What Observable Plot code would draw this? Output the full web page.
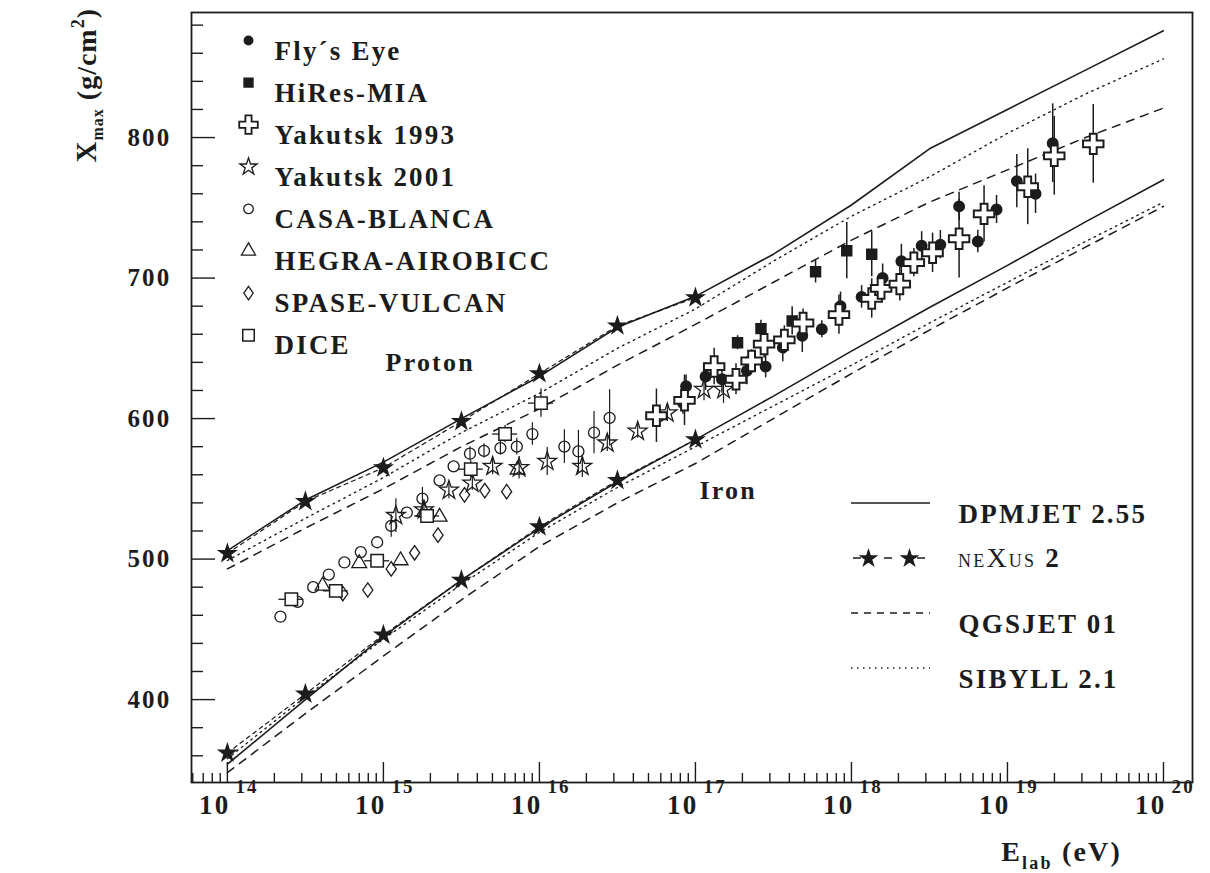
<!DOCTYPE html>
<html><head><meta charset="utf-8">
<script src="https://cdn.jsdelivr.net/npm/d3@7"></script>
<script src="https://cdn.jsdelivr.net/npm/@observablehq/plot@0.6"></script>
<style>
body{margin:0;background:#fff;}
#chart svg{font-family:"Liberation Serif","Times New Roman",serif;display:block;}
#chart svg text{letter-spacing:2.2px;}
</style></head><body><div id="chart"></div>
<script>
// ---- model curves (log10 E/eV grid, Xmax in g/cm^2) ----
const energyGrid = [14, 14.5, 15, 15.5, 16, 16.5, 17, 17.5, 18, 18.5, 19, 19.5, 20];
const dpmjetProton = [506, 542, 569, 600, 630, 665, 687, 717, 752, 792, 820, 848, 876];
const sibyllProton = [499, 529, 558, 590, 618, 650, 678, 712, 744, 772, 803, 831, 856];
const qgsjetProton = [493, 522, 550, 580, 607, 638, 667, 697, 727, 754, 777, 800, 821];
const dpmjetIron   = [354, 400, 445, 485, 522, 555, 585, 616, 648, 679, 709, 740, 770];
const sibyllIron   = [358, 402, 443, 482, 519, 551, 580, 609, 638, 668, 697, 726, 754];
const qgsjetIron   = [348, 390, 431, 471, 509, 540, 568, 600, 632, 663, 693, 722, 751];
const nexusGrid    = [14, 14.5, 15, 15.5, 16, 16.5, 17];
const nexusProton  = [504, 541, 565, 598, 632, 666, 686];
const nexusIron    = [362, 404, 446, 485, 523, 556, 585];

// ---- measurements ----
const flysEyeLogE = [16.92,16.94,17.065,17.17,17.33,17.45,17.56,17.685,17.81,17.93,18.065,18.20,18.32,18.45,18.57,18.69,18.81,18.93,19.06,19.18,19.29];
const flysEyeX    = [611,623,630,628,634,637,650.5,659,663.6,680,686.6,700,712,723,723.8,751,726,748.8,769,760,796];
const flysEyeErr  = [8,8,10,10,10,8,10,12,6,10,8,10,12,10,10,10,8,10,19,14,28];

const hiresLogE = [17.27,17.42,17.62,17.77,17.97,18.13];
const hiresX    = [654,664,669.5,704.5,719.5,717];
const hiresErr  = [5,6,10,8,20,16];

const yak93LogE = [16.75,16.93,17.12,17.26,17.36,17.44,17.57,17.69,17.92,18.13,18.19,18.31,18.40,18.52,18.69,18.85,19.13,19.30,19.55];
const yak93X    = [602,613,637,628,641,653,656,668,674,685.5,692.6,695.7,711,718,728,745.7,765,787,795.5];
const yak93Err  = [19,18,13,11,8,10,10,10,14,14,10,12,10,14,28,20,27,28,28];

const yak01LogE = [15.08,15.26,15.42,15.57,15.70,15.87,16.05,16.275,16.435,16.63,16.82,17.055,17.18];
const yak01X    = [531,535,549,554,566,565,569.5,566,582.6,591,604,620.7,620.7];
const yak01Err  = [12,5,6,5,6,8,10,8,6,5,6,8,10];

const casaLogE = [14.34,14.45,14.55,14.65,14.75,14.855,14.96,15.05,15.15,15.25,15.36,15.45,15.555,15.645,15.75,15.855,15.955,16.16,16.25,16.35,16.45];
const casaX    = [459,469.5,480,489,497.6,505,512,523.6,533,543,556,566,575,577,579,580,589,580,576.6,590,600.5];
const casaErr  = [0,0,0,0,0,0,0,8,0,8,0,0,5,5,5,6,8,12,15,15,20];

const hegraLogE = [14.61,14.845,15.11,15.26,15.36,15.86];
const hegraX    = [481,497,499,533.5,530,563.6];

const spaseLogE = [14.74,14.90,15.05,15.20,15.35,15.52,15.65,15.79];
const spaseX    = [475.5,478,493,504.5,517,545.7,548.8,548];

const diceLogE = [14.41,14.695,14.96,15.28,15.56,15.78,16.01];
const diceX    = [471.4,477.4,498.8,530.7,564,589,611];
const diceErr  = [0,0,0,0,6,6,10];
const diceEErr = [0.08,0.08,0.08,0.08,0.08,0.08,0.08];

// ---- axes / labels ----
const xDecades = [14,15,16,17,18,19,20];
const yMajor = [400,500,600,700,800];
const legendNames = ["Fly\u00B4s Eye","HiRes-MIA","Yakutsk 1993","Yakutsk 2001","CASA-BLANCA","HEGRA-AIROBICC","SPASE-VULCAN","DICE"];
const modelNames = ["DPMJET 2.55","NEXUS 2","QGSJET 01","SIBYLL 2.1"];
const annotations = [{logE: 15.3, v: 640, label: "Proton"}, {logE: 17.21, v: 549, label: "Iron"}];

// ---- layout ----
const W = 1210, H = 873;
const mL = 191, mT = 12, mR = 18, mB = 91;
const xLogDomain = [13.77, 20.186];
const yDomain = [341, 889];
const ink = "#1c1c1c";

const pts = (e, v, err) => e.map((d, i) => ({e: d, v: v[i], err: err ? err[i] : 0}));
const flys = pts(flysEyeLogE, flysEyeX, flysEyeErr);
const hires = pts(hiresLogE, hiresX, hiresErr);
const yak93 = pts(yak93LogE, yak93X, yak93Err);
const yak01 = pts(yak01LogE, yak01X, yak01Err);
const casa = pts(casaLogE, casaX, casaErr);
const hegra = pts(hegraLogE, hegraX);
const spase = pts(spaseLogE, spaseX);
const dice = pts(diceLogE, diceX, diceErr).map((d, i) => ({...d, xerr: diceEErr[i]}));

const tallDiamond = {draw(ctx, size) {const s = Math.sqrt(size), w = s * 0.42, h = s * 0.6;
  ctx.moveTo(0, -h); ctx.lineTo(w, 0); ctx.lineTo(0, h); ctx.lineTo(-w, 0); ctx.closePath();}};

const styles = {
  flys:  {symbol: "circle", r: 5.2, fill: ink, stroke: ink},
  hires: {symbol: "square", r: 5.6, fill: ink, stroke: ink},
  yak93: {symbol: "cross", r: 8.6, fill: "white", stroke: ink, strokeWidth: 2},
  yak01: {symbol: "star", r: 5.9, fill: "none", stroke: ink, strokeWidth: 1.3},
  casa:  {symbol: "circle", r: 5.5, fill: "none", stroke: ink, strokeWidth: 1.3},
  hegra: {symbol: "triangle", r: 5.5, fill: "none", stroke: ink, strokeWidth: 1.3},
  spase: {symbol: tallDiamond, r: 6.8, fill: "none", stroke: ink, strokeWidth: 1.3},
  dice:  {symbol: "square", r: 7, fill: "white", stroke: ink, strokeWidth: 1.5}
};
const legendStyles = [
  {symbol: "circle", r: 4.2, fill: ink, stroke: ink},
  {symbol: "square", r: 5, fill: ink, stroke: ink},
  {symbol: "cross", r: 7.8, fill: "white", stroke: ink, strokeWidth: 1.8},
  {symbol: "star", r: 5.4, fill: "none", stroke: ink, strokeWidth: 1.3},
  {symbol: "circle", r: 4.8, fill: "none", stroke: ink, strokeWidth: 1.3},
  {symbol: "triangle", r: 5.2, fill: "none", stroke: ink, strokeWidth: 1.3},
  {symbol: tallDiamond, r: 6.3, fill: "none", stroke: ink, strokeWidth: 1.3},
  {symbol: "square", r: 6.5, fill: "none", stroke: ink, strokeWidth: 1.5}
];

// tick geometry helpers (pixel lengths converted through the scale spans)
const plotW = W - mL - mR, plotH = H - mT - mB;
const dataPerPxY = (yDomain[1] - yDomain[0]) / plotH;
const decPerPxX = (xLogDomain[1] - xLogDomain[0]) / plotW;
const xTicks = [];
for (let n = 13; n <= 20; n++) for (let k = 1; k <= 9; k++) {
  const l = n + Math.log10(k);
  if (l > xLogDomain[0] + 0.004 && l < xLogDomain[1]) xTicks.push({v: 10 ** l, len: k === 1 ? 20 : 9});
}
const yTicks = [];
for (let v = 360; v <= 880; v += 20) yTicks.push({v, len: v % 100 === 0 ? 24 : 12});

const curve = (grid, vals, opts) => Plot.line(grid.map((e, i) => ({e, v: vals[i]})),
  {x: d => 10 ** d.e, y: "v", stroke: ink, ...opts});
const errY = (data, w = 1.5) => Plot.ruleX(data.filter(d => d.err > 0),
  {x: d => 10 ** d.e, y1: d => d.v - d.err, y2: d => d.v + d.err, stroke: ink, strokeWidth: w});
const dots = (data, st) => Plot.dot(data, {x: d => 10 ** d.e, y: "v", ...st});

const solid = {strokeWidth: 1.6};
const dotted = {strokeWidth: 1.4, strokeDasharray: "1.5,4.5"};
const dashed = {strokeWidth: 1.5, strokeDasharray: "8,7"};
const nexusDash = {strokeWidth: 1.2, strokeDasharray: "4,4"};

const legendRowsY = [28, 70.1, 112.2, 154.3, 196.4, 238.5, 280.6, 322.7];
const modelRowsY = [491, 546, 601, 656];
const legendFont = 27;

const marks = [
  curve(energyGrid, dpmjetProton, solid),
  curve(energyGrid, sibyllProton, dotted),
  curve(energyGrid, qgsjetProton, dashed),
  curve(nexusGrid, nexusProton, nexusDash),
  curve(energyGrid, dpmjetIron, solid),
  curve(energyGrid, sibyllIron, dotted),
  curve(energyGrid, qgsjetIron, dashed),
  curve(nexusGrid, nexusIron, nexusDash),
  Plot.dot(nexusGrid.map((e, i) => ({e, v: nexusProton[i]})), {x: d => 10 ** d.e, y: "v", symbol: "star", r: 5.2, fill: ink, stroke: ink}),
  Plot.dot(nexusGrid.map((e, i) => ({e, v: nexusIron[i]})), {x: d => 10 ** d.e, y: "v", symbol: "star", r: 5.2, fill: ink, stroke: ink}),
  errY(flys), errY(hires), errY(yak93), errY(yak01, 1.2), errY(casa, 1.2), errY(dice, 1.3),
  Plot.ruleY(dice, {y: "v", x1: d => 10 ** (d.e - d.xerr), x2: d => 10 ** (d.e + d.xerr), stroke: ink, strokeWidth: 1.3}),
  dots(casa, styles.casa), dots(hegra, styles.hegra), dots(spase, styles.spase),
  dots(yak01, styles.yak01), dots(dice, styles.dice),
  dots(flys, styles.flys), dots(hires, styles.hires), dots(yak93, styles.yak93),
  // ticks inside the frame
  Plot.ruleX(xTicks, {x: "v", y1: yDomain[0], y2: d => yDomain[0] + d.len * dataPerPxY, stroke: ink, strokeWidth: 1.4}),
  Plot.ruleY(yTicks, {y: "v", x1: 10 ** xLogDomain[0], x2: d => 10 ** (xLogDomain[0] + d.len * decPerPxX), stroke: ink, strokeWidth: 1.4}),
  Plot.frame({stroke: ink, strokeWidth: 1.8}),
  // tick labels
  Plot.text(yMajor, {y: d => d, frameAnchor: "left", dx: -20, textAnchor: "end", text: d => String(d), fontSize: 25, fontWeight: "bold", fill: ink}),
  Plot.text(xDecades, {x: d => 10 ** d, frameAnchor: "bottom", dy: 31, dx: 3, textAnchor: "end", text: () => "10", fontSize: 27, fontWeight: "bold", fill: ink}),
  Plot.text(xDecades, {x: d => 10 ** d, frameAnchor: "bottom", dy: 10, dx: 8, textAnchor: "start", text: d => String(d), fontSize: 19, fontWeight: "bold", fill: ink}),
  // annotations
  Plot.text(annotations, {x: d => 10 ** d.logE, y: "v", text: "label", fontSize: 26, fontWeight: "bold", fill: ink}),
  // symbol legend
  ...legendNames.flatMap((name, i) => [
    Plot.dot([name], {frameAnchor: "top-left", dx: 57, dy: legendRowsY[i], ...legendStyles[i]}),
    Plot.text([name], {frameAnchor: "top-left", dx: 83, dy: legendRowsY[i], textAnchor: "start", fontSize: legendFont, fontWeight: "bold", fill: ink})
  ]),
  // model legend labels (neXus drawn with small caps below)
  ...modelNames.flatMap((name, i) => i === 1 ? [] : [
    Plot.text([name], {frameAnchor: "top-left", dx: 767, dy: modelRowsY[i], textAnchor: "start", fontSize: legendFont, fontWeight: "bold", fill: ink})
  ]),
  Plot.dot([0], {frameAnchor: "top-left", dx: 677, dy: modelRowsY[1], symbol: "star", r: 4.8, fill: ink, stroke: ink}),
  Plot.dot([0], {frameAnchor: "top-left", dx: 718, dy: modelRowsY[1], symbol: "star", r: 4.8, fill: ink, stroke: ink})
];

const svg = Plot.plot({
  width: W, height: H,
  marginLeft: mL, marginTop: mT, marginRight: mR, marginBottom: mB,
  style: {background: "white", fontFamily: "'Liberation Serif','Times New Roman',serif"},
  x: {type: "log", domain: [10 ** xLogDomain[0], 10 ** xLogDomain[1]], axis: null},
  y: {domain: yDomain, axis: null},
  marks
});
document.getElementById("chart").append(svg);

// ---- texts with sub/superscripts and legend line samples ----
const s = d3.select(svg);
const sampleX1 = mL + 660, sampleX2 = mL + 739;
const samples = [{dash: null, w: 1.6}, null, {dash: "7,6", w: 1.5}, {dash: "1.5,4.5", w: 1.4}];
samples.forEach((smp, i) => {
  const y = mT + modelRowsY[i];
  if (i === 1) {
    [[853, 861], [884, 892], [917, 925]].forEach(([a, b]) => s.append("line").attr("x1", a).attr("x2", b).attr("y1", y).attr("y2", y).attr("stroke", ink).attr("stroke-width", 1.5));
  } else {
    s.append("line").attr("x1", sampleX1).attr("x2", sampleX2).attr("y1", y).attr("y2", y)
      .attr("stroke", ink).attr("stroke-width", smp.w).attr("stroke-dasharray", smp.dash);
  }
});
const nx = s.append("text").attr("x", mL + 767).attr("y", mT + modelRowsY[1] + 9)
  .attr("text-anchor", "start").attr("fill", ink).attr("font-size", legendFont);
nx.append("tspan").attr("font-size", 18).text("NE");
nx.append("tspan").attr("font-size", 28).text("X");
nx.append("tspan").attr("font-size", 18).text("US");
nx.append("tspan").attr("font-weight", "bold").text(" 2");

const yt = s.append("text").attr("transform", "translate(96,8) rotate(-90)").attr("text-anchor", "end")
  .attr("fill", ink).attr("font-weight", "bold").style("letter-spacing", "1px");
yt.append("tspan").attr("font-size", 29).text("X");
yt.append("tspan").attr("font-size", 16).attr("dy", 7).text("max");
yt.append("tspan").attr("font-size", 28).attr("dy", -7).text(" (g/cm");
yt.append("tspan").attr("font-size", 18).attr("dy", -12).text("2");
yt.append("tspan").attr("font-size", 28).attr("dy", 12).text(")");

const xt = s.append("text").attr("x", 1122).attr("y", 861).attr("text-anchor", "end").attr("fill", ink).attr("font-weight", "bold");
xt.append("tspan").attr("font-size", 28).text("E");
xt.append("tspan").attr("font-size", 18).attr("dy", 8).text("lab");
xt.append("tspan").attr("font-size", 28).attr("dy", -8).text(" (eV)");
</script>
</body></html>
